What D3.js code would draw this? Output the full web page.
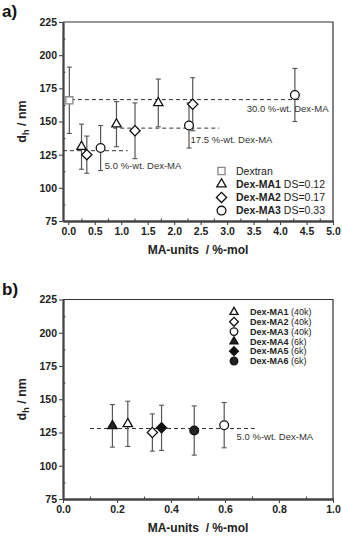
<!DOCTYPE html>
<html>
<head>
<meta charset="utf-8">
<script src="https://cdn.jsdelivr.net/npm/d3@7"></script>
<style>
  body { margin: 0; background: #fff; }
  svg { font-family: "Liberation Sans", Arial, sans-serif; }
</style>
</head>
<body>
<svg id="chart" width="342" height="536"></svg>
<script>
// ---- data ----
// panel a: dh (nm) vs MA-units (%-mol)
var dextranX = [0.02], dextranY = [166], dextranErr = [25];
var ma1X = [0.25, 0.91, 1.70], ma1Y = [131, 148, 164], ma1Err = [17, 17, 18];
var ma2X = [0.35, 1.26, 2.35], ma2Y = [125, 143, 163], ma2Err = [14, 21, 20];
var ma3X = [0.61, 2.28, 4.28], ma3Y = [130, 147, 170], ma3Err = [17, 17, 20];

// concentration guide lines (panel a)
var guideLabels = ["30.0 %-wt. Dex-MA", "17.5 %-wt. Dex-MA", "5.0 %-wt. Dex-MA"];
var guideY = [166.5, 145, 128];
var guideX0 = [0.05, 0.85, -0.1];
var guideX1 = [4.4, 2.85, 1.12];

// panel b: 5.0 %-wt. samples, 40k and 6k dextran
var bNames = ["Dex-MA1", "Dex-MA2", "Dex-MA3", "Dex-MA4", "Dex-MA5", "Dex-MA6"];
var bMw = ["(40k)", "(40k)", "(40k)", "(6k)", "(6k)", "(6k)"];
var bX = [0.24, 0.331, 0.597, 0.183, 0.365, 0.486];
var bY = [131.5, 125, 130.5, 130, 128.5, 126.5];
var bErr = [17, 14, 17, 16, 17, 18.5];
var bGuideY = 128, bGuideX = [0.10, 0.71];

var yTicks = [75, 100, 125, 150, 175, 200, 225];
var aXTicks = d3.range(0, 5.01, 0.5);
var bXTicks = d3.range(0, 1.01, 0.2);

var svg = d3.select("#chart");
var left = 63, right = 333;

var shapes = {
    square: { type: d3.symbolSquare, size: 50, rot: 0 },
    triangle: { type: d3.symbolTriangle, size: 38, rot: 0 },
    diamond: { type: d3.symbolSquare, size: 52, rot: 45 },
    circle: { type: d3.symbolCircle, size: 60, rot: 0 }
};

function marker(g, shape, x, y, fill, stroke, k) {
    var s = shapes[shape];
    k = k || 1;
    g.append("path")
        .attr("d", d3.symbol().type(s.type).size(s.size * k)())
        .attr("transform", "translate(" + x + "," + y + ") rotate(" + s.rot + ")")
        .attr("fill", fill)
        .attr("stroke", stroke)
        .attr("stroke-width", 1.3);
}

function drawFrame(top, bottom, xScale, yScale, xTicks, xMinor, fmt, label) {
    var g = svg.append("g");

    // top and right frame
    g.append("path")
        .attr("d", "M" + left + "," + top + "H" + right + "V" + bottom)
        .attr("fill", "none")
        .attr("stroke", "#333")
        .attr("stroke-width", 1.2);

    var xAxis = d3.axisBottom(xScale).tickValues(xTicks).tickFormat(d3.format(fmt))
        .tickSizeInner(4).tickSizeOuter(0).tickPadding(3);
    var xMin = d3.axisBottom(xScale).tickValues(xMinor).tickFormat("")
        .tickSizeInner(-2.5).tickSizeOuter(0);
    var yAxis = d3.axisLeft(yScale).tickValues(yTicks).tickSizeInner(4).tickSizeOuter(0).tickPadding(2);
    var yMin = d3.axisLeft(yScale).tickValues(d3.range(87.5, 225, 25)).tickFormat("")
        .tickSizeInner(-2.5).tickSizeOuter(0);

    [g.append("g").attr("transform", "translate(0," + bottom + ")").call(xAxis),
     g.append("g").attr("transform", "translate(0," + bottom + ")").call(xMin),
     g.append("g").attr("transform", "translate(" + left + ",0)").call(yAxis),
     g.append("g").attr("transform", "translate(" + left + ",0)").call(yMin)]
        .forEach(function(a) {
            a.select(".domain").attr("stroke", "#444").attr("stroke-width", 1.8);
            a.selectAll(".tick line").attr("stroke", "#444").attr("stroke-width", 1.1);
            a.selectAll(".tick text")
                .attr("font-size", 10.5)
                .attr("font-weight", "bold")
                .attr("fill", "#222")
                .attr("font-family", "Liberation Sans, Arial, sans-serif");
        });

    // axis titles
    g.append("text")
        .attr("x", (left + right) / 2)
        .attr("y", bottom + 33)
        .attr("text-anchor", "middle")
        .attr("font-size", 12)
        .attr("font-weight", "bold")
        .attr("fill", "#222")
        .attr("xml:space", "preserve")
        .text("MA-units  / %-mol");

    var yt = g.append("text")
        .attr("transform", "translate(26," + (top + bottom) / 2 + ") rotate(-90)")
        .attr("text-anchor", "middle")
        .attr("font-size", 12.5)
        .attr("font-weight", "bold")
        .attr("fill", "#222");
    yt.append("tspan").text("d");
    yt.append("tspan").attr("font-size", 9).attr("dy", 3).text("h");
    yt.append("tspan").attr("dy", -3).text(" / nm");

    g.append("text")
        .attr("x", 2)
        .attr("y", top - 5)
        .attr("font-size", 17)
        .attr("font-weight", "bold")
        .attr("fill", "#111")
        .text(label);

    return g;
}

function errorBar(g, x, y0, y1) {
    g.append("line").attr("x1", x).attr("x2", x).attr("y1", y0).attr("y2", y1)
        .attr("stroke", "#555").attr("stroke-width", 1.2);
    [y0, y1].forEach(function(y) {
        g.append("line").attr("x1", x - 2.5).attr("x2", x + 2.5).attr("y1", y).attr("y2", y)
            .attr("stroke", "#555").attr("stroke-width", 1.1);
    });
}

function guide(g, xScale, yScale, x0, x1, y) {
    g.append("line")
        .attr("x1", xScale(x0)).attr("x2", xScale(x1))
        .attr("y1", yScale(y)).attr("y2", yScale(y))
        .attr("stroke", "#333")
        .attr("stroke-width", 1)
        .attr("stroke-dasharray", "4,3");
}

/* ---------- panel a ---------- */
var aTop = 22, aBottom = 221;
var xa = d3.scaleLinear().domain([-0.1, 5.0]).range([left, right]);
var ya = d3.scaleLinear().domain([75, 225]).range([aBottom, aTop]);
var ga = drawFrame(aTop, aBottom, xa, ya, aXTicks, d3.range(0.25, 5, 0.5), ".1f", "a)");

guideY.forEach(function(y, i) { guide(ga, xa, ya, guideX0[i], guideX1[i], y); });

var guideTextX = [3.37, 2.31, 0.69], guideTextY = [160, 136.5, 117];
guideLabels.forEach(function(t, i) {
    ga.append("text")
        .attr("x", xa(guideTextX[i]))
        .attr("y", ya(guideTextY[i]))
        .attr("dy", "0.35em")
        .attr("font-size", 9.5)
        .attr("fill", "#333")
        .text(t);
});

var aSeries = [
    { x: dextranX, y: dextranY, e: dextranErr, shape: "square", stroke: "#888" },
    { x: ma1X, y: ma1Y, e: ma1Err, shape: "triangle", stroke: "#111" },
    { x: ma2X, y: ma2Y, e: ma2Err, shape: "diamond", stroke: "#111" },
    { x: ma3X, y: ma3Y, e: ma3Err, shape: "circle", stroke: "#111" }
];
aSeries.forEach(function(s) {
    s.x.forEach(function(xv, i) {
        errorBar(ga, xa(xv), ya(s.y[i] + s.e[i]), ya(s.y[i] - s.e[i]));
    });
});
aSeries.forEach(function(s) {
    s.x.forEach(function(xv, i) {
        marker(ga, s.shape, xa(xv), ya(s.y[i]), "#fff", s.stroke);
    });
});

// legend a
var aLegBold = ["", "Dex-MA1", "Dex-MA2", "Dex-MA3"];
var aLegRest = ["Dextran", " DS=0.12", " DS=0.17", " DS=0.33"];
aSeries.forEach(function(s, i) {
    var y = 171 + i * 13.2;
    marker(ga, s.shape, 221.5, y, "#fff", s.stroke);
    var t = ga.append("text")
        .attr("x", 236)
        .attr("y", y)
        .attr("dy", "0.35em")
        .attr("font-size", 10.5)
        .attr("fill", "#222")
        .attr("xml:space", "preserve");
    if (aLegBold[i]) t.append("tspan").attr("font-weight", "bold").text(aLegBold[i]);
    t.append("tspan").text(aLegRest[i]);
});

/* ---------- panel b ---------- */
var bTop = 299.5, bBottom = 499;
var xb = d3.scaleLinear().domain([0, 1]).range([left, right]);
var yb = d3.scaleLinear().domain([75, 225]).range([bBottom, bTop]);
var gb = drawFrame(bTop, bBottom, xb, yb, bXTicks, d3.range(0.1, 1, 0.2), ".1f", "b)");

guide(gb, xb, yb, bGuideX[0], bGuideX[1], bGuideY);
gb.append("text")
    .attr("x", xb(0.643))
    .attr("y", yb(121.8))
    .attr("dy", "0.35em")
    .attr("font-size", 9.5)
    .attr("fill", "#333")
    .text("5.0 %-wt. Dex-MA");

var bShape = ["triangle", "diamond", "circle", "triangle", "diamond", "circle"];
var bFill = ["#fff", "#fff", "#fff", "#222", "#111", "#222"];

bX.forEach(function(xv, i) {
    errorBar(gb, xb(xv), yb(bY[i] + bErr[i]), yb(bY[i] - bErr[i]));
});
bX.forEach(function(xv, i) {
    marker(gb, bShape[i], xb(xv), yb(bY[i]), bFill[i], "#111");
});

// legend b
bNames.forEach(function(n, i) {
    var y = 312 + i * 9.8;
    marker(gb, bShape[i], 234, y, bFill[i], "#111", 0.75);
    var t = gb.append("text")
        .attr("x", 250)
        .attr("y", y)
        .attr("dy", "0.35em")
        .attr("font-size", 9)
        .attr("fill", "#222")
        .attr("xml:space", "preserve");
    t.append("tspan").attr("font-weight", "bold").text(n);
    t.append("tspan").text(" " + bMw[i]);
});
</script>
</body>
</html>
